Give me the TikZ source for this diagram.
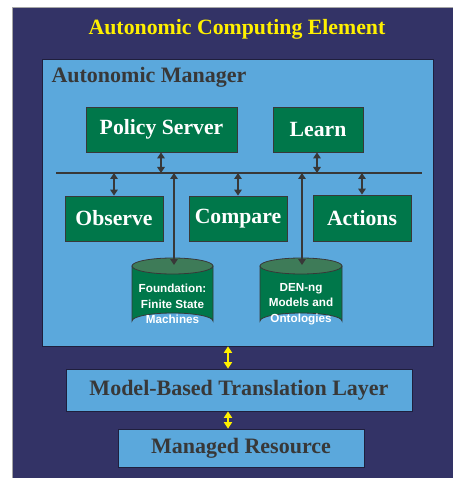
\documentclass[tikz,border=0pt]{standalone}
\usepackage{fontspec}
\setmainfont{Liberation Serif}
\newfontfamily\arialfont{Liberation Sans}
\usetikzlibrary{arrows.meta}
\definecolor{navy}{HTML}{333366}
\definecolor{lblue}{HTML}{5BA8DC}
\definecolor{dgreen}{HTML}{00774A}
\definecolor{tgreen}{HTML}{3E7B58}
\definecolor{tgray}{HTML}{383838}
\definecolor{ylw}{HTML}{FFF000}
\tikzset{
  greenbox/.style={draw=tgray, line width=0.8pt, fill=dgreen, text=white, font=\fontsize{21.7}{24}\selectfont\bfseries, inner sep=0pt},
  bluebox/.style={draw=navy!60!black, line width=0.6pt, fill=lblue, text=tgray, inner sep=0pt},
  darr/.style={draw=tgray, line width=1.5pt, {Triangle[width=7.5pt,length=6pt]}-{Triangle[width=7.5pt,length=6pt]}},
  yarr/.style={draw=ylw, line width=1.8pt, {Triangle[width=8pt,length=6.5pt]}-{Triangle[width=8pt,length=6.5pt]}},
  cyl/.style={draw=tgray, line width=0.8pt, fill=dgreen},
  cyltop/.style={draw=tgray, line width=0.8pt, fill=tgreen},
  cyltext/.style={text=white, font=\arialfont\fontsize{11.7}{15.3}\selectfont\bfseries, align=center, inner sep=0pt},
}
\begin{document}
\begin{tikzpicture}[x=1pt,y=-1pt]
\useasboundingbox (0,0) rectangle (452,478);
% outer element
\fill[white] (0,0) rectangle (452,478);
\draw[fill=navy, draw=gray!70] (12,7) rectangle (453,479);
\node[text=ylw, font=\fontsize{21.8}{24}\selectfont\bfseries] (title) at (237,29) {Autonomic Computing Element};
% manager
\node[bluebox, minimum width=391, minimum height=287] (mgr) at (237.5,202.5) {};
\node[anchor=west, text=tgray, font=\fontsize{22}{24}\selectfont\bfseries] (mgrlabel) at (48,77) {Autonomic Manager};
% bus
\coordinate (busL) at (56,173);
\coordinate (busR) at (422,173);
\draw[draw=tgray, line width=1.3pt] (busL) -- (busR);
% boxes
\node[greenbox, minimum width=151, minimum height=45] (ps) at (161.5,129.5) {Policy Server};
\node[greenbox, minimum width=90, minimum height=45] (learn) at (318,129.5) {Learn};
\node[greenbox, minimum width=98, minimum height=45] (obs) at (114,218.5) {Observe};
\node[greenbox, minimum width=98, minimum height=45] (cmp) at (238,218.5) {Compare};
\node[greenbox, minimum width=98, minimum height=46] (act) at (362,218) {Actions};
% bus points
\coordinate (b1) at (161,173);
\coordinate (b2) at (317,173);
\coordinate (b3) at (114,173);
\coordinate (b4) at (238,173);
\coordinate (b5) at (362,173);
\coordinate (b6) at (174,173);
\coordinate (b7) at (302,173);
\draw[darr] (ps.south -| b1) -- (b1);
\draw[darr] (learn.south -| b2) -- (b2);
\draw[darr] (b3) -- (obs.north -| b3);
\draw[darr] (b4) -- (cmp.north -| b4);
\draw[darr] (b5) -- (act.north -| b5);
% cylinders
\draw[cyl] (132,266) -- (132,321) arc[start angle=180, end angle=360, x radius=40.5, y radius=8] -- (213,266) -- cycle;
\draw[cyltop] (172.5,266) ellipse[x radius=40.5, y radius=8];
\coordinate (c1top) at (174,265);
\node[cyltext] (c1) at (172.5,304) {Foundation:\\Finite State\\Machines};
\draw[cyl] (260,266) -- (260,321) arc[start angle=180, end angle=360, x radius=41, y radius=8] -- (342,266) -- cycle;
\draw[cyltop] (301,266) ellipse[x radius=41, y radius=8];
\coordinate (c2top) at (302,265);
\node[cyltext] (c2) at (301,304) {DEN-ng\\Models and\\Ontologies};
\draw[darr] (b6) -- (c1top);
\draw[darr] (b7) -- (c2top);
% lower layers
\node[bluebox, minimum width=346, minimum height=42, font=\fontsize{22}{24}\selectfont\bfseries] (mbt) at (239,390) {Model-Based Translation Layer};
\node[bluebox, minimum width=246, minimum height=38, font=\fontsize{22}{24}\selectfont\bfseries] (mr) at (241,448) {Managed Resource};
\draw[yarr] (mgr.south -| 228,0) -- (mbt.north -| 228,0);
\draw[yarr] (mbt.south -| 228,0) -- (mr.north -| 228,0);
\end{tikzpicture}
\end{document}
